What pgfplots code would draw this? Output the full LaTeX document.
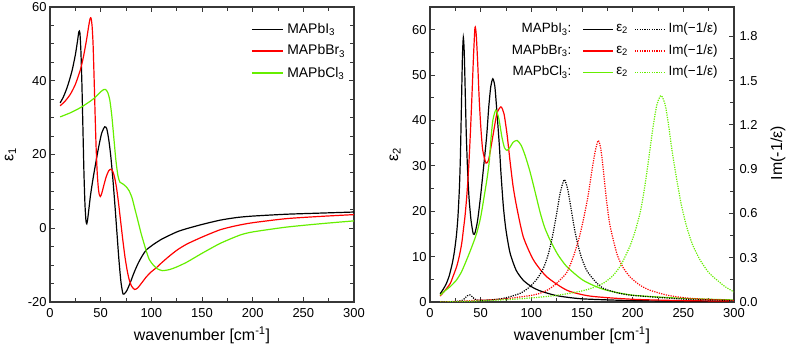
\documentclass[border=0pt]{standalone}
\usepackage{pgfplots}
\pgfplotsset{compat=1.18}
\usepackage{fontspec}
\setmainfont{Liberation Sans}
\definecolor{mygreen}{RGB}{102,238,0}
\definecolor{axgray}{RGB}{55,55,55}
\pgfplotsset{
 myaxis/.style={
  scale only axis, width=304bp, height=295bp,
  xmin=0, xmax=300, xtick={0,50,...,300}, minor x tick num=1,
  tick align=inside,
  major tick length=5bp, minor tick length=4bp,
  axis line style={axgray, line width=1.3bp},
  every tick/.style={axgray, line width=1bp},
  tick label style={font=\fontsize{13}{13}\selectfont},
  xticklabel style={yshift=-3bp},
  label style={font=\fontsize{16}{16}\selectfont},
  /pgf/number format/assume math mode=true,
  xlabel={wavenumber [cm\textsuperscript{-1}]},
  xlabel style={at={(axis description cs:0.5,-0.112)}, anchor=center},
  clip=true,
 },
 crv/.style={line width=1.2bp, smooth, tension=0.4},
 dot/.style={line width=1.2bp, smooth, tension=0.4, dash pattern=on 1.2bp off 1.2bp},
}
\newcommand{\lf}{\fontsize{13.5}{13.5}\selectfont}
\begin{document}
\begin{tikzpicture}
\path[use as bounding box] (0,0) rectangle (787bp,348bp);
% ---------------- left panel ----------------
\begin{axis}[myaxis, at={(50bp,46bp)}, anchor=south west,
  ymin=-20, ymax=60, ytick={-20,0,20,40,60}, minor y tick num=3,
  ylabel={ε\textsubscript{1}},
  ylabel style={at={(axis description cs:-0.13,0.5)}, anchor=center, rotate=0},
]
\addplot[crv, black] coordinates {(10,34)(13,35.5)(16,37.5)(19,40)(22,43)(25,47)(27,50.5)(28.5,53.3)(29.5,53)(30.5,48)(31.5,39)(32.5,27)(33.5,15)(34.5,6.5)(35.5,2)(36.3,1.2)(37.2,2.5)(38.5,5.5)(40,9)(42.5,13.5)(45,17.5)(48,22)(51,25.8)(54,27.5)(56,27)(58,24)(60,19.5)(62,13.5)(64,6.5)(66,-1)(68,-8.5)(70,-14.5)(72,-17.8)(74,-17.6)(76,-16.8)(79,-14.9)(83,-12)(87,-9.5)(91,-7.5)(95,-5.9)(102,-4.4)(110,-3.0)(118,-1.9)(126,-0.9)(135,-0.1)(151,1.1)(168,2.2)(184,2.9)(200,3.3)(233,3.8)(266,4.1)(300,4.4)};
\addplot[crv, red] coordinates {(10,33.2)(15,34.5)(20,36.3)(25,39)(30,43)(33,46.5)(36,51)(38,54.5)(39.5,56.8)(40.5,57)(41.5,55)(42.5,50)(43.5,41)(44.5,31)(45.5,22)(46.5,15.5)(47.5,11.5)(48.5,9.3)(49.7,8.6)(51,9.4)(53,11.5)(55.5,14)(58,15.6)(60.2,16)(62,15.4)(64,13.5)(66,10.3)(68,6)(70,1.2)(72,-3.5)(74,-7.8)(76,-11.2)(78,-13.8)(80.5,-15.7)(83.5,-16.6)(86.5,-16.2)(90,-15)(95,-13.2)(100,-11.8)(105,-10.7)(110,-9.4)(118,-7.5)(126,-5.8)(135,-4.3)(150,-2.4)(168,-0.4)(184,0.7)(200,1.5)(233,2.6)(266,3.2)(300,3.7)};
\addplot[crv, mygreen] coordinates {(10,30.2)(20,31.3)(30,32.7)(40,34.5)(45,35.6)(50,37)(53,37.6)(55,37.6)(57,36.8)(59,34.8)(61,30.5)(63,24.5)(65,18.5)(67,14.3)(69,12.5)(72,12)(75,11.3)(78,10.2)(81,8.2)(84,5)(86.5,2.3)(90,-1.5)(94.7,-5.9)(98,-8.5)(102,-10)(106,-11)(111,-11.5)(118,-11.2)(125,-10.5)(135,-9.2)(150,-6.8)(168,-4.1)(187,-1.9)(200,-1.0)(233,0.3)(266,1.2)(300,2.0)};
% legend
\draw[black, line width=1.2bp] (axis description cs:0.664,0.925) -- (axis description cs:0.766,0.925);
\draw[red, line width=1.2bp] (axis description cs:0.664,0.851) -- (axis description cs:0.766,0.851);
\draw[mygreen, line width=1.2bp] (axis description cs:0.664,0.776) -- (axis description cs:0.766,0.776);
\node[anchor=west, inner sep=0, font=\fontsize{14}{14}\selectfont] at (axis description cs:0.78,0.925) {MAPbI\textsubscript{3}};
\node[anchor=west, inner sep=0, font=\fontsize{14}{14}\selectfont] at (axis description cs:0.78,0.851) {MAPbBr\textsubscript{3}};
\node[anchor=west, inner sep=0, font=\fontsize{14}{14}\selectfont] at (axis description cs:0.78,0.776) {MAPbCl\textsubscript{3}};
\end{axis}
% ---------------- right panel ----------------
\begin{axis}[myaxis, at={(430bp,46bp)}, anchor=south west,
  ymin=0, ymax=65, ytick={0,10,...,60}, minor y tick num=1, ytick pos=left,
  ylabel={ε\textsubscript{2}},
  ylabel style={at={(axis description cs:-0.115,0.5)}, anchor=center, rotate=0},
]
\addplot[crv, black] coordinates {(10,1.8)(13,2.8)(16,4)(19,5.8)(22,8.5)(24,11)(26,14.5)(27.5,18.5)(29,25)(30,32)(31,43)(32,54)(32.9,58.3)(33.8,55)(34.8,46)(35.8,37)(37,29.5)(38.5,23)(40.5,18)(42.7,15)(44.5,15.3)(47,18)(50,23.5)(53,30)(55.9,36.5)(58,43)(60,47.5)(62,49.2)(64,47.5)(66,42)(68.4,34.6)(70,28.5)(72.4,21)(75,15.8)(79,10.8)(85,7)(92,4.8)(100,3.4)(108,2.5)(125,1.4)(150,0.7)(200,0.3)(250,0.2)(300,0.1)};
\addplot[crv, red] coordinates {(10,1.3)(15,2.6)(20,4.1)(23,5.8)(26.3,7.8)(29,10.2)(31.3,12.9)(33,16)(34.5,18.8)(36,22.5)(37.2,26.2)(38.5,31)(40,38)(41.5,46)(43,54.5)(44.4,60.5)(45.6,59)(47,53)(48.5,45)(50,39)(52,33.5)(55.3,30.6)(58,31.5)(62,36.5)(66,41.5)(70,43)(73,41.5)(76,37)(79,31)(82,25.5)(85.5,21)(92,14.4)(102,9.3)(115,5.6)(135,2.6)(158,1.3)(200,0.6)(250,0.3)(300,0.2)};
\addplot[crv, mygreen] coordinates {(10,1.5)(15,2.5)(20,3.4)(26,4.8)(31,6.6)(36,9.2)(41,12)(46,15.1)(50,18.7)(54,24)(56.5,27.5)(58.5,31)(60,35.5)(62,40)(65,42.3)(68,40.3)(71,36.3)(73.5,34)(76,33.4)(79,34.1)(82,35.2)(86,35.6)(90,34.5)(94,32.2)(98.7,28.7)(104,24)(108.6,19.8)(113,16.5)(118.4,13.7)(126,10.5)(135,7.8)(151,4.8)(171,2.8)(200,1.5)(250,0.8)(300,0.45)};
% legend
\node[anchor=east, inner sep=0, font=\lf] at (axis description cs:0.466,0.925) {MAPbI\textsubscript{3}:};
\draw[black, line width=1.2bp] (axis description cs:0.504,0.925) -- (axis description cs:0.603,0.925);
\node[anchor=west, inner sep=0, font=\lf] at (axis description cs:0.612,0.925) {ε\textsubscript{2}};
\draw[black, line width=1.2bp, dash pattern=on 1.2bp off 1.2bp] (axis description cs:0.674,0.925) -- (axis description cs:0.773,0.925);
\node[anchor=west, inner sep=0, font=\lf] at (axis description cs:0.784,0.925) {Im(−1/ε)};
\node[anchor=east, inner sep=0, font=\lf] at (axis description cs:0.466,0.851) {MAPbBr\textsubscript{3}:};
\draw[red, line width=1.2bp] (axis description cs:0.504,0.851) -- (axis description cs:0.603,0.851);
\node[anchor=west, inner sep=0, font=\lf] at (axis description cs:0.612,0.851) {ε\textsubscript{2}};
\draw[red, line width=1.2bp, dash pattern=on 1.2bp off 1.2bp] (axis description cs:0.674,0.851) -- (axis description cs:0.773,0.851);
\node[anchor=west, inner sep=0, font=\lf] at (axis description cs:0.784,0.851) {Im(−1/ε)};
\node[anchor=east, inner sep=0, font=\lf] at (axis description cs:0.466,0.779) {MAPbCl\textsubscript{3}:};
\draw[mygreen, line width=1.2bp] (axis description cs:0.504,0.779) -- (axis description cs:0.603,0.779);
\node[anchor=west, inner sep=0, font=\lf] at (axis description cs:0.612,0.779) {ε\textsubscript{2}};
\draw[mygreen, line width=1.2bp, dash pattern=on 1.2bp off 1.2bp] (axis description cs:0.674,0.779) -- (axis description cs:0.773,0.779);
\node[anchor=west, inner sep=0, font=\lf] at (axis description cs:0.784,0.779) {Im(−1/ε)};
\end{axis}
\begin{axis}[myaxis, at={(430bp,46bp)}, anchor=south west,
  hide x axis, axis y line*=right,
  ymin=0, ymax=2, ytick={0,0.3,0.6,0.9,1.2,1.5,1.8}, minor y tick num=1,
  yticklabel style={xshift=2bp, /pgf/number format/fixed, /pgf/number format/precision=1, /pgf/number format/fixed zerofill},
  ylabel={Im(-1/ε)},
  ylabel style={at={(axis description cs:1.145,0.505)}, anchor=center, rotate=0},
  xlabel={},
]
\addplot[dot, black] coordinates {(10,0)(25,0.003)(32,0.012)(35,0.03)(37,0.043)(39.5,0.048)(42,0.033)(45,0.017)(50,0.012)(60,0.014)(70,0.022)(79,0.036)(90,0.062)(98.7,0.104)(106,0.16)(112,0.23)(117,0.33)(121,0.45)(125,0.6)(128.5,0.74)(132.5,0.83)(136,0.76)(140,0.6)(143,0.48)(146.4,0.375)(150,0.29)(155,0.21)(163,0.14)(171,0.093)(185,0.062)(200,0.045)(250,0.02)(300,0.01)};
\addplot[dot, red] coordinates {(10,0)(30,0.005)(45,0.012)(60,0.015)(75,0.022)(90,0.035)(100,0.045)(108.6,0.059)(117,0.085)(125,0.127)(135,0.2)(141.4,0.307)(147,0.43)(151.3,0.556)(156,0.72)(160,0.9)(163,1.02)(166,1.095)(168.5,1.04)(171,0.9)(174,0.7)(177.6,0.52)(184.3,0.33)(190,0.24)(197.4,0.17)(207,0.115)(217,0.08)(235,0.045)(256.6,0.025)(300,0.01)};
\addplot[dot, mygreen] coordinates {(10,0)(30,0.003)(50,0.008)(70,0.014)(90,0.022)(110,0.034)(130,0.05)(150,0.075)(160,0.095)(171,0.127)(180,0.175)(187.5,0.24)(192,0.3)(197.4,0.38)(202,0.47)(207.2,0.6)(210.5,0.72)(213.8,0.87)(217,1.03)(220.4,1.2)(224,1.34)(228,1.40)(232,1.34)(235.2,1.21)(239,1.02)(243.5,0.83)(248,0.66)(253.3,0.51)(259,0.39)(266.5,0.285)(275,0.2)(283,0.15)(291,0.105)(300,0.068)};
\end{axis}
\end{tikzpicture}
\end{document}
